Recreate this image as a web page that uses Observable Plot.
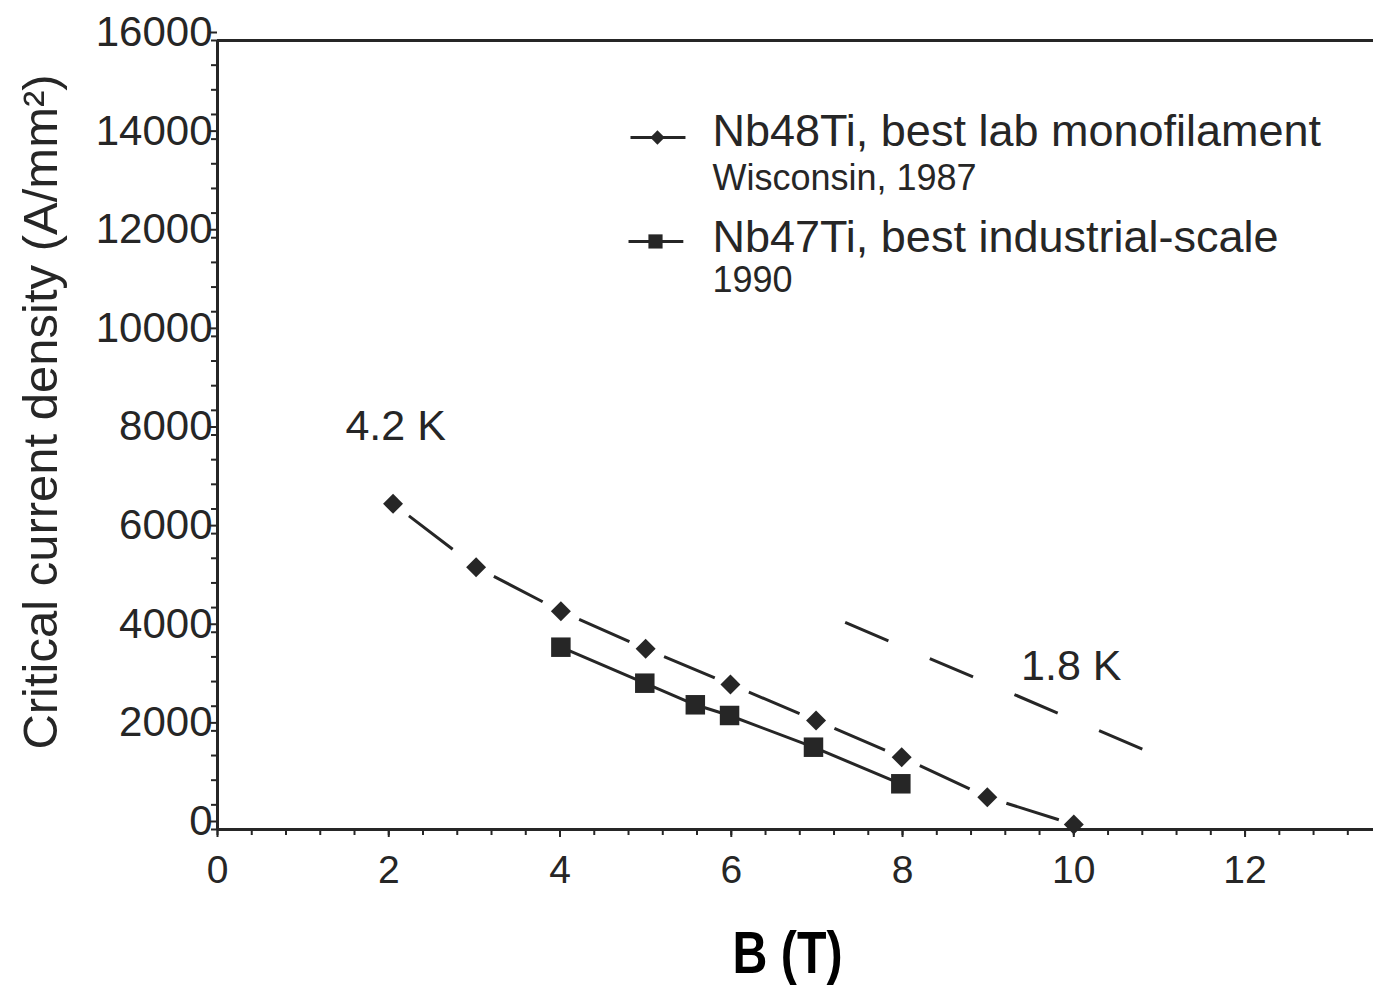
<!DOCTYPE html>
<html><head><meta charset="utf-8">
<script src="https://cdn.jsdelivr.net/npm/d3@7"></script>
<script src="https://cdn.jsdelivr.net/npm/@observablehq/plot@0.6"></script>
<style>body{margin:0;background:#fff;} svg{display:block}</style>
</head><body><div id="chart"></div>
<script>
// Nb48Ti, best lab monofilament (Wisconsin, 1987), 4.2 K
const fieldLab = [2.05, 3.02, 4.01, 5.0, 5.99, 6.99, 7.99, 8.99, 10.0];
const jcLab = [6605, 5319, 4427, 3665, 2941, 2211, 1466, 655, 101];
// Nb47Ti, best industrial-scale (1990)
const fieldInd = [4.01, 4.99, 5.58, 5.98, 6.96, 7.98];
const jcInd = [3697, 2967, 2529, 2312, 1669, 927];
// 1.8 K dashed line
const field18 = [7.33, 10.84];
const jc18 = [4198, 1602];
// axis ticks
const xMajor = [0, 2, 4, 6, 8, 10, 12];
const xMinor = d3.range(34).map(i => +(i * 0.4).toFixed(1));
const yMajor = [0, 2000, 4000, 6000, 8000, 10000, 12000, 14000, 16000];
const yMinor = d3.range(0, 16001, 500);
// texts
const yLabel = "Critical current density (A/mm²)";
const xLabel = "B (T)";
const tempLabels = [{x: 2.08, y: 8173, t: "4.2 K"}, {x: 9.97, y: 3306, t: "1.8 K"}];
const legendMain = [{x: 5.78, y: 14155, t: "Nb48Ti, best lab monofilament"}, {x: 5.78, y: 12006, t: "Nb47Ti, best industrial-scale"}];
const legendSub = [{x: 5.78, y: 13202, t: "Wisconsin, 1987"}, {x: 5.78, y: 11134, t: "1990"}];
const legendLines = [{x1: 4.823, x2: 5.465, y: 14034}, {x1: 4.80, x2: 5.44, y: 11925}];
const legendDiamond = [{x: 5.138, y: 14034}];
const legendSquare = [{x: 5.115, y: 11925}];

const ink = "#262626";
const lab = fieldLab.map((b, i) => ({b, jc: jcLab[i]}));
const labPairs = d3.pairs(lab).map(([a, c]) => ({x1: a.b, y1: a.jc, x2: c.b, y2: c.jc}));
const ind = fieldInd.map((b, i) => ({b, jc: jcInd[i]}));
const k18 = [{x1: field18[0], y1: jc18[0], x2: field18[1], y2: jc18[1]}];

const chart = Plot.plot({
  width: 1373,
  height: 997,
  marginLeft: 217,
  marginRight: 0,
  marginTop: 40,
  marginBottom: 168,
  style: {fontFamily: "'Liberation Sans', Arial, sans-serif", background: "#fff", color: ink},
  x: {domain: [0, 13.5]},
  y: {domain: [0, 16000]},
  marks: [
    Plot.axisX(xMinor, {tickSize: 6, strokeWidth: 2, tickFormat: () => "", label: null}),
    Plot.axisX(xMajor, {tickSize: 8, strokeWidth: 2, tickPadding: 18, fontSize: 39, label: null, tickFormat: d => String(d)}),
    Plot.axisY(yMinor, {tickSize: 6, strokeWidth: 2, tickFormat: () => "", label: null}),
    Plot.axisY(yMajor, {tickSize: 8, strokeWidth: 2, tickPadding: -3, dy: -8, fontSize: 42, label: null, tickFormat: d => String(d)}),
    Plot.ruleX([0], {stroke: ink, strokeWidth: 3}),
    Plot.ruleY([0], {stroke: ink, strokeWidth: 3}),
    Plot.ruleY([16000], {stroke: ink, strokeWidth: 3}),
    // 4.2 K lab monofilament: dashed between diamonds
    Plot.link(labPairs, {x1: "x1", y1: "y1", x2: "x2", y2: "y2", stroke: ink, strokeWidth: 3, strokeDasharray: "0 20 55 1000"}),
    Plot.dot(lab, {x: "b", y: "jc", symbol: "diamond2", r: 9, fill: ink, stroke: "none"}),
    // industrial-scale: solid with squares
    Plot.line(ind, {x: "b", y: "jc", stroke: ink, strokeWidth: 3}),
    Plot.dot(ind, {x: "b", y: "jc", symbol: "square", r: 11, fill: ink, stroke: "none"}),
    // 1.8 K
    Plot.link(k18, {x1: "x1", y1: "y1", x2: "x2", y2: "y2", stroke: ink, strokeWidth: 3, strokeDasharray: "47 45"}),
    Plot.text(tempLabels, {x: "x", y: "y", text: "t", fontSize: 43, fill: ink}),
    // legend
    Plot.link(legendLines, {x1: "x1", x2: "x2", y1: "y", y2: "y", stroke: ink, strokeWidth: 3}),
    Plot.dot(legendDiamond, {x: "x", y: "y", symbol: "diamond2", r: 6.5, fill: ink}),
    Plot.dot(legendSquare, {x: "x", y: "y", symbol: "square", r: 8, fill: ink}),
    Plot.text(legendMain, {x: "x", y: "y", text: "t", textAnchor: "start", fontSize: 45, fill: ink}),
    Plot.text(legendSub, {x: "x", y: "y", text: "t", textAnchor: "start", fontSize: 36, fill: ink}),
    // axis titles
    Plot.text([yLabel], {frameAnchor: "left", textAnchor: "middle", rotate: -90, dx: -176, dy: -23, fontSize: 49, fill: ink}),
    Plot.text([xLabel], {frameAnchor: "bottom", textAnchor: "middle", dx: -8, dy: 143, fontSize: 60, fontWeight: "bold", fill: "#000", className: "xtitle"})
  ]
});
// condense the bold x title like the reference's narrow typeface
d3.select(chart).selectAll(".xtitle text").attr("textLength", 110).attr("lengthAdjust", "spacingAndGlyphs");
document.getElementById("chart").append(chart);
</script>
</body></html>
